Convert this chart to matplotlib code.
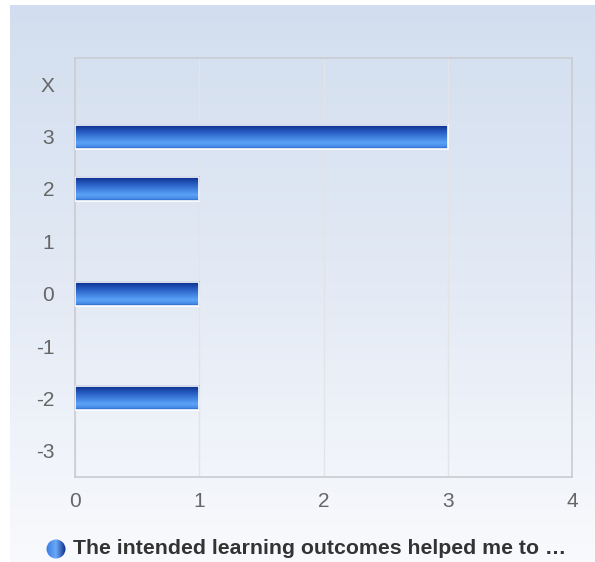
import numpy as np
import matplotlib.pyplot as plt
from matplotlib.colors import LinearSegmentedColormap
from matplotlib.patches import Rectangle, Circle

categories = ["X", "3", "2", "1", "0", "-1", "-2", "-3"]
counts = [0, 3, 1, 0, 1, 0, 1, 0]
x_ticks = [0, 1, 2, 3, 4]
series_name = "The intended learning outcomes helped me to \u2026"

plt.rcParams['font.family'] = ['Liberation Sans', 'DejaVu Sans']

fig = plt.figure(figsize=(5.95, 5.62), dpi=100)

# page background: light blue fading to near white
bg = fig.add_axes([10 / 595, 0, 585 / 595, 557 / 562])
bg_cmap = LinearSegmentedColormap.from_list("bg", ["#d2deef", "#e3eaf5", "#f9fafd"])
bg.imshow(np.linspace(0, 1, 256).reshape(-1, 1), cmap=bg_cmap, aspect='auto',
          extent=[0, 1, 0, 1], origin='upper')
bg.set_axis_off()

ax = fig.add_axes([75 / 595, 1 - 477 / 562, (572 - 75) / 595, (477 - 58) / 562])
ax.patch.set_alpha(0)

bar_cmap = LinearSegmentedColormap.from_list(
    "bar", [(0.0, "#0a2a86"), (0.35, "#2a62c8"), (0.75, "#5aa2f7"),
            (0.9, "#4a8ee8"), (1.0, "#2560c8")])
grad = np.linspace(0, 1, 64).reshape(-1, 1)
h = 0.46
ypos = np.arange(len(categories))
for y, v in zip(ypos, counts):
    if v <= 0:
        continue
    ax.imshow(grad, cmap=bar_cmap, aspect='auto', origin='upper',
              extent=[0, v, y + h / 2, y - h / 2], zorder=3)
    ax.add_patch(Rectangle((0, y - h / 2), v, h, fill=False,
                           edgecolor='white', lw=1.2, zorder=4))

ax.set_xlim(0, 4)
ax.set_ylim(len(categories) - 0.5, -0.5)
ax.set_yticks(ypos)
ax.set_yticklabels(categories)
ax.set_xticks(x_ticks)
ax.tick_params(length=0, labelsize=15, labelcolor='#666666')
ax.tick_params(axis='y', pad=15)
ax.tick_params(axis='x', pad=11)
ax.grid(axis='x', color='#e2e4e8', lw=1, zorder=0)
ax.set_axisbelow(True)
for s in ax.spines.values():
    s.set_color('#c9ccd1')
    s.set_linewidth(1.2)

# legend entry
leg = fig.add_axes([0, 0, 1, 1])
leg.set_xlim(0, 595)
leg.set_ylim(562, 0)
leg.set_axis_off()
icon = Circle((56, 549), 9.5, transform=leg.transData)
leg.imshow(np.linspace(0, 1, 64).reshape(1, -1),
           cmap=LinearSegmentedColormap.from_list("ic", ["#3a7ae0", "#6aaaf8", "#0a2a86"]),
           extent=[46, 66, 559, 539], aspect='auto', clip_path=icon, zorder=2)
leg.set_xlim(0, 595)
leg.set_ylim(562, 0)
leg.text(73, 549, series_name, fontsize=15.3, fontweight='bold', color='#333333',
         va='center', ha='left')

fig.savefig("out.png", dpi=100)
